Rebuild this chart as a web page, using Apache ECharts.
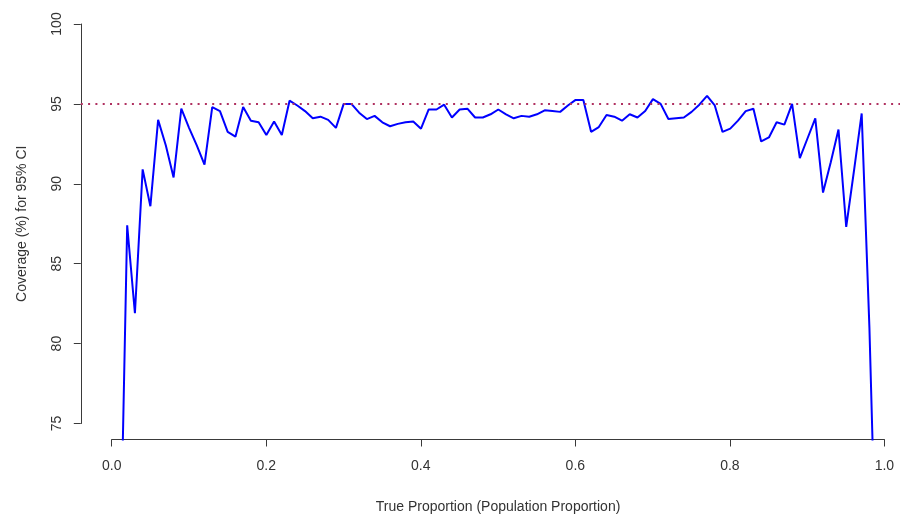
<!DOCTYPE html>
<html>
<head>
<meta charset="utf-8">
<script src="https://cdn.jsdelivr.net/npm/echarts@6/dist/echarts.min.js"></script>
<style>
html,body{margin:0;padding:0;background:#fff;}
#chart{width:900px;height:514px;}
</style>
</head>
<body>
<div id="chart"></div>
<script>
// True proportions (x)
var proportions = [0.01,0.02,0.03,0.04,0.05,0.06,0.07,0.08,0.09,0.10,
  0.11,0.12,0.13,0.14,0.15,0.16,0.17,0.18,0.19,0.20,
  0.21,0.22,0.23,0.24,0.25,0.26,0.27,0.28,0.29,0.30,
  0.31,0.32,0.33,0.34,0.35,0.36,0.37,0.38,0.39,0.40,
  0.41,0.42,0.43,0.44,0.45,0.46,0.47,0.48,0.49,0.50,
  0.51,0.52,0.53,0.54,0.55,0.56,0.57,0.58,0.59,0.60,
  0.61,0.62,0.63,0.64,0.65,0.66,0.67,0.68,0.69,0.70,
  0.71,0.72,0.73,0.74,0.75,0.76,0.77,0.78,0.79,0.80,
  0.81,0.82,0.83,0.84,0.85,0.86,0.87,0.88,0.89,0.90,
  0.91,0.92,0.93,0.94,0.95,0.96,0.97,0.98,0.99];
// Coverage (%) for 95% CI (y)
var coverage = [63.4,87.4,81.9,90.9,88.6,94.0,92.4,90.4,94.7,93.5,
  92.4,91.2,94.8,94.55,93.25,92.95,94.8,93.95,93.85,93.05,
  93.9,93.05,95.2,94.9,94.55,94.1,94.2,94.0,93.5,95.0,
  95.0,94.45,94.05,94.25,93.85,93.6,93.75,93.85,93.9,93.45,
  94.65,94.65,94.95,94.15,94.65,94.7,94.15,94.15,94.35,94.65,
  94.35,94.1,94.25,94.2,94.35,94.6,94.55,94.5,94.9,95.25,
  95.25,93.25,93.55,94.3,94.2,93.95,94.35,94.15,94.55,95.3,
  95.0,94.05,94.1,94.15,94.5,94.95,95.5,94.9,93.25,93.45,
  93.95,94.55,94.7,92.65,92.9,93.85,93.7,95.0,91.6,92.85,
  94.1,89.45,91.35,93.4,87.3,90.8,94.4,81.0,63.4];
var nominal = 95;
var xTickMin = 0, xTickMax = 1, xTickStep = 0.2;
var yTickMin = 75, yTickMax = 100, yTickStep = 5;
var xTitle = 'True Proportion (Population Proportion)';
var yTitle = 'Coverage (%) for 95% CI';

var points = proportions.map(function (p, i) { return [p, coverage[i]]; });
var font = "'Liberation Sans', Arial, sans-serif";
var ink = '#3a3a3a';
var textInk = '#333';

var chart = echarts.init(document.getElementById('chart'), null, {renderer: 'canvas'});
chart.setOption({
  animation: false,
  backgroundColor: '#fff',
  grid: [
    {left: 80.8, top: 8, width: 835, height: 431.5, containLabel: false, outerBoundsMode: 'none'},
    {left: 111.7, top: 24, width: 772.7, height: 399.5, containLabel: false, outerBoundsMode: 'none'}
  ],
  xAxis: [
    {gridIndex: 0, type: 'value', min: -0.04, max: 1.04, show: false},
    {gridIndex: 1, type: 'value', min: xTickMin, max: xTickMax, interval: xTickStep,
      position: 'bottom', offset: 16,
      axisLine: {show: true, onZero: false, lineStyle: {color: ink, width: 1}},
      axisTick: {show: true, inside: false, length: 7, lineStyle: {color: ink}},
      axisLabel: {margin: 20, color: textInk, fontSize: 14, fontFamily: font,
        formatter: function (v) { return v.toFixed(1); }},
      splitLine: {show: false},
      name: xTitle, nameLocation: 'middle', nameGap: 61,
      nameTextStyle: {color: textInk, fontSize: 14, fontFamily: font}}
  ],
  yAxis: [
    {gridIndex: 0, type: 'value', min: 74, max: 101, show: false},
    {gridIndex: 1, type: 'value', min: yTickMin, max: yTickMax, interval: yTickStep,
      position: 'left', offset: 30.9,
      axisLine: {show: true, onZero: false, lineStyle: {color: ink, width: 1}},
      axisTick: {show: true, inside: false, length: 7, lineStyle: {color: ink}},
      axisLabel: {margin: 17, rotate: 90, color: textInk, fontSize: 14, fontFamily: font},
      splitLine: {show: false},
      name: yTitle, nameLocation: 'middle', nameGap: 52, nameRotate: 90,
      nameTextStyle: {color: textInk, fontSize: 14, fontFamily: font}}
  ],
  series: [
    {type: 'line', xAxisIndex: 0, yAxisIndex: 0, data: points,
      symbol: 'none', clip: true, smooth: false,
      lineStyle: {color: '#0000ff', width: 2},
      markLine: {silent: true, symbol: 'none', label: {show: false},
        lineStyle: {color: '#b03060', width: 2, type: [2, 5.3]},
        data: [{yAxis: nominal}]}
    }
  ]
});
</script>
</body>
</html>
